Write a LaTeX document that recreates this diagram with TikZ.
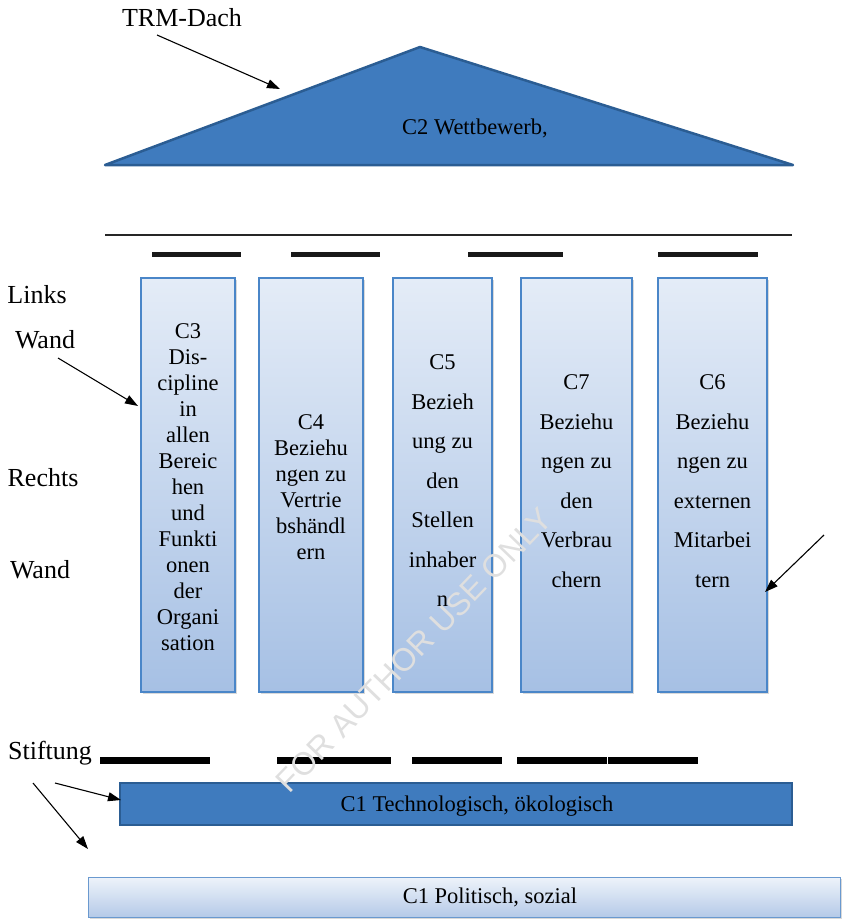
\documentclass[tikz,border=0pt]{standalone}
\usepackage{fontspec}
\setmainfont{Liberation Serif}
\newfontfamily\wmfont{Liberation Sans}
\usetikzlibrary{arrows.meta,shadows}

\definecolor{roofblue}{HTML}{3F7BBE}
\definecolor{roofedge}{HTML}{2B5D93}
\definecolor{pilltop}{HTML}{E4ECF7}
\definecolor{pillbot}{HTML}{A6C0E4}
\definecolor{pilledge}{HTML}{4A86C8}
\definecolor{basetop}{HTML}{EEF3FA}
\definecolor{basebot}{HTML}{B5CAE8}
\definecolor{baseedge}{HTML}{6A99CF}

\begin{document}
\begin{tikzpicture}[x=1pt,y=-1pt,
  lbl/.style={font=\fontsize{26}{30}\selectfont, inner sep=0pt},
  boxtext/.style={font=\fontsize{22.5}{26}\selectfont, inner sep=0pt},
  pillar/.style={draw=pilledge, line width=1.2pt, top color=pilltop,
    bottom color=pillbot, inner sep=0pt, minimum height=414pt,
    drop shadow={shadow xshift=2pt, shadow yshift=-2pt, opacity=0.3, fill=gray}},
  ptext/.style={align=center, inner sep=0pt, font=\fontsize{22.5}{26}\selectfont},
  ptextwide/.style={align=center, inner sep=0pt, font=\fontsize{22.5}{39.5}\selectfont},
  arr/.style={-{Triangle[length=13pt,width=9pt]}, line width=1.1pt},
  topbar/.style={line width=5pt, black!90},
  footbar/.style={line width=7pt, black},
]
\useasboundingbox (0,0) rectangle (842,919);

% roof
\coordinate (roofL) at (105,165);
\coordinate (roofT) at (420,47);
\coordinate (roofR) at (793,165);
\fill[roofblue] (roofL) -- (roofT) -- (roofR) -- cycle;
\draw[roofedge, line width=2.5pt, line join=round] (roofL) -- (roofT) -- (roofR) -- cycle;
\node[boxtext] (roof) at (475,128) {C2 Wettbewerb,};

% beam lines
\draw[line width=2.5pt, black!85] (105,235) -- (792,235);
\draw[topbar] (152,254.5) -- (241,254.5);
\draw[topbar] (291,254.5) -- (380,254.5);
\draw[topbar] (468,254.5) -- (563,254.5);
\draw[topbar] (658,254.5) -- (758,254.5);

% pillars
\node[pillar, minimum width=94pt]  (c3) at (188,485) {};
\node[pillar, minimum width=104pt] (c4) at (311,485) {};
\node[pillar, minimum width=99pt]  (c5) at (442.5,485) {};
\node[pillar, minimum width=111pt] (c7) at (576.5,485) {};
\node[pillar, minimum width=109pt] (c6) at (712.5,485) {};

\node[ptext] (c3t) at (188,487) {C3\\Dis-\\cipline\\in\\allen\\Bereic\\hen\\und\\Funkti\\onen\\der\\Organi\\sation};
\node[ptext] (c4t) at (311,487) {C4\\Beziehu\\ngen zu\\Vertrie\\bshändl\\ern};
\node[ptextwide] (c5t) at (442.5,481) {C5\\Bezieh\\ung zu\\den\\Stellen\\inhaber\\n};
\node[ptextwide] (c7t) at (576.5,481) {C7\\Beziehu\\ngen zu\\den\\Verbrau\\chern};
\node[ptextwide] (c6t) at (712.5,481) {C6\\Beziehu\\ngen zu\\externen\\Mitarbei\\tern};

% foundation bars
\draw[footbar] (100,760) -- (210,760);
\draw[footbar] (277,760) -- (391,760);
\draw[footbar] (412,760) -- (502,760);
\draw[footbar] (517,760) -- (607,760);
\draw[footbar] (608,760) -- (698,760);

% foundation boxes
\node[draw=roofedge, line width=2pt, fill=roofblue, minimum width=672pt,
  minimum height=42pt, inner sep=0pt] (tech) at (456,804) {};
\node[boxtext] (techt) at (477,806) {C1 Technologisch, ökologisch};
\node[draw=baseedge, line width=1pt, top color=basetop, bottom color=basebot,
  minimum width=752pt, minimum height=40pt, inner sep=0pt,
  drop shadow={shadow xshift=2pt, shadow yshift=-2pt, opacity=0.3, fill=gray}] (pol) at (464,897) {};
\node[boxtext] (polt) at (490,897) {C1 Politisch, sozial};

% side labels
\node[lbl] (trm) at (182,18) {TRM-Dach};
\node[lbl] (links) at (37,295) {Links};
\node[lbl] (wand1) at (45,340) {Wand};
\node[lbl] (rechts) at (43,478) {Rechts};
\node[lbl] (wand2) at (40,570) {Wand};
\node[lbl] (stift) at (50,753) {Stiftung};

% pointers
\coordinate (trmS) at (157,35);   \coordinate (trmE) at (280,89);
\coordinate (wandS) at (58,358);  \coordinate (wandE) at (138,406);
\coordinate (rS) at (824,535);    \coordinate (rE) at (765,592);
\coordinate (s1S) at (55,783);    \coordinate (s1E) at (121,800);
\coordinate (s2S) at (33,783);    \coordinate (s2E) at (88,849);
\draw[arr] (trmS) -- (trmE);
\draw[arr] (wandS) -- (wandE);
\draw[arr] (rS) -- (rE);
\draw[arr] (s1S) -- (s1E);
\draw[arr] (s2S) -- (s2E);

% watermark
\node[font=\wmfont\fontsize{32}{36}\selectfont, text=gray!25, rotate=46, inner sep=0pt]
  (wm) at (414,650) {FOR AUTHOR USE ONLY};
\end{tikzpicture}
\end{document}
